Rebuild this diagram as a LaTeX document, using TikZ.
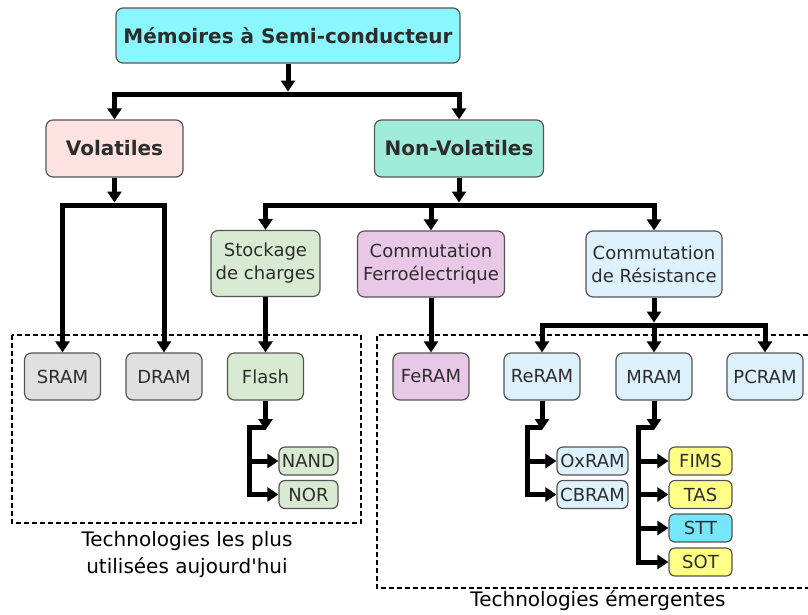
\documentclass[tikz,border=0pt]{standalone}
\usepackage{fontspec}
\setmainfont{DejaVu Sans}
\usepackage{tikz}
\usetikzlibrary{positioning,arrows.meta,calc}
\definecolor{memfill}{RGB}{138,247,255}
\definecolor{volfill}{RGB}{255,227,227}
\definecolor{nvfill}{RGB}{160,236,218}
\definecolor{stockfill}{RGB}{217,234,211}
\definecolor{ferrofill}{RGB}{232,200,230}
\definecolor{resfill}{RGB}{221,242,252}
\definecolor{grayfill}{RGB}{224,224,224}
\definecolor{yelfill}{RGB}{255,255,136}
\definecolor{sttfill}{RGB}{119,230,251}
\definecolor{txt}{RGB}{45,45,45}

\begin{document}
\begin{tikzpicture}
	[x=1pt,y=-1pt,
	bx/.style={draw={rgb,255:red,85;green,85;blue,85},line width=1.2pt,rounded corners=7pt,
		text=txt,align=center,inner sep=0pt,font=\fontsize{18}{23}\selectfont},
	bigbx/.style={bx,font=\fontsize{20}{24}\selectfont\bfseries},
	smbx/.style={bx,rounded corners=6pt},
	sz/.style 2 args={minimum width=#1pt,minimum height=#2pt},
	ar/.style={-{Triangle[length=11pt,width=14pt]},line width=5pt},
	zone/.style={dash pattern=on 5pt off 3pt,line width=1.4pt},
	lbl/.style={text=black,align=center,font=\fontsize{20}{27}\selectfont}]
	\useasboundingbox (0,0) rectangle (808,614);
	%%%%% ZONES
	\draw[zone] (12,335) rectangle (361,523);
	\draw[zone] (808,335) -- (377,335) -- (377,588) -- (808,588);
	\node[lbl] (usedlbl) at (187,554.5) {Technologies les plus\\utilisées aujourd\textquotesingle hui};
	\node[lbl] (emerglbl) at (598,601) {Technologies émergentes};
	%%%%% LEVEL 0
	\node[bigbx,fill=memfill,sz={344}{55}] (memoire) at (288,35.5) {Mémoires à Semi-conducteur};
	%%%%% LEVEL 1
	\node[bigbx,fill=volfill,sz={137}{57}] (volat) at (114.5,148.5) {Volatiles};
	\node[bigbx,fill=nvfill,sz={169}{57}] (nonvolat) at (459,148.5) {Non-Volatiles};
	\coordinate (jmem) at (288,94);
	\draw[ar,shorten >=2.5pt] (memoire) -- (jmem);
	\draw[ar] (jmem) -| (volat.north);
	\draw[ar] (jmem) -| (nonvolat.north);
	%%%%% LEVEL 2
	\node[bx,fill=stockfill,sz={109}{66}] (stockage) at (265.5,263.5) {Stockage\\de charges};
	\node[bx,fill=ferrofill,sz={147}{66}] (ferro) at (431,264) {Commutation\\Ferroélectrique};
	\node[bx,fill=resfill,sz={136}{66}] (resist) at (654,264) {Commutation\\de Résistance};
	\coordinate (jnv) at (459,205);
	\draw[ar,shorten >=2.5pt] (nonvolat) -- (jnv);
	\foreach \nm in {stockage,ferro,resist}
	\draw[ar] (jnv) -| (\nm.north);
	%%%%% LEVEL 3
	\foreach \nm/\xx/\col/\txt in {sram/62.5/grayfill/SRAM,dram/164/grayfill/DRAM,flash/265.5/stockfill/Flash,
		feram/431/ferrofill/FeRAM,reram/542/resfill/ReRAM,mram/654/resfill/MRAM,pcram/765/resfill/PCRAM}
	\node[bx,fill=\col,sz={76}{47}] (\nm) at (\xx,376.5) {\txt};
	\coordinate (jvol) at (114.5,205);
	\draw[ar,shorten >=2.5pt] (volat) -- (jvol);
	\draw[ar] (jvol) -| (sram.north);
	\draw[ar] (jvol) -| (dram.north);
	\draw[ar] (stockage) -- (flash);
	\draw[ar] (ferro) -- (feram);
	\coordinate (jres) at (654,325);
	\draw[ar,shorten >=2.5pt] (resist) -- (jres);
	\foreach \nm in {reram,mram,pcram}
	\draw[ar] (jres) -| (\nm.north);
	%%%%% LEVEL 4
	\node[smbx,fill=stockfill,sz={59}{28}] (nand) at (308.5,461) {NAND};
	\node[smbx,fill=stockfill,sz={59}{28}] (nor) at (308.5,494.5) {NOR};
	\node[smbx,fill=resfill,sz={71}{28}] (oxram) at (592.5,461) {OxRAM};
	\node[smbx,fill=resfill,sz={71}{28}] (cbram) at (592.5,494.5) {CBRAM};
	\foreach \nm/\yy/\col/\txt in {fims/461/yelfill/FIMS,tas/494.5/yelfill/TAS,stt/528/sttfill/STT,sot/562/yelfill/SOT}
	\node[smbx,fill=\col,sz={63}{28}] (\nm) at (700.5,\yy) {\txt};
	% flash
	\coordinate (tflash) at (265.5,430);
	\coordinate (kflash) at (249.5,427);
	\draw[ar] (flash) -- (tflash);
	\draw[ar] (tflash |- kflash) -- (kflash) |- (nor.west);
	\draw[ar] (kflash |- nand.west) -- (nand.west);
	% reram
	\coordinate (treram) at (542,430);
	\coordinate (kreram) at (527,427);
	\draw[ar] (reram) -- (treram);
	\draw[ar] (treram |- kreram) -- (kreram) |- (cbram.west);
	\draw[ar] (kreram |- oxram.west) -- (oxram.west);
	% mram
	\coordinate (tmram) at (654,430);
	\coordinate (kmram) at (638,427);
	\draw[ar] (mram) -- (tmram);
	\draw[ar] (tmram |- kmram) -- (kmram) |- (sot.west);
	\foreach \nm in {fims,tas,stt}
	\draw[ar] (kmram |- \nm.west) -- (\nm.west);
\end{tikzpicture}
\end{document}
